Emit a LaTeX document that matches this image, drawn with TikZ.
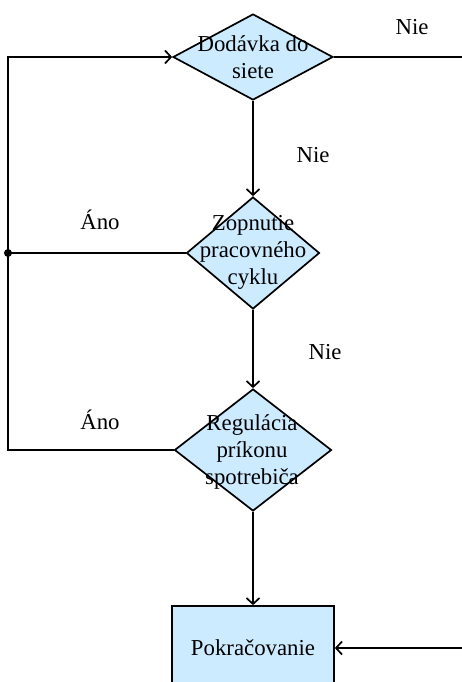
\documentclass[tikz,border=0pt]{standalone}
\usepackage{fontspec}
\setmainfont{Liberation Serif}
\usetikzlibrary{shapes.geometric}
\usetikzlibrary{arrows.meta}
\definecolor{boxblue}{RGB}{204,235,255}

\begin{document}
\begin{tikzpicture}[x=1pt, y=-1pt, line width=1.7pt,
	>={Straight Barb[length=6pt,width=13pt]},
	decision/.style={diamond, draw, fill=boxblue, inner sep=0pt},
	txt/.style={align=center, font=\fontsize{22.8}{27}\selectfont, inner sep=0pt}]
	\useasboundingbox (0, 0) rectangle (461, 682);
	%decisions
	\node[decision, minimum width=160pt, minimum height=86pt] (d1) at (253, 57) {};
	\node[decision, minimum width=133pt, minimum height=112pt] (d2) at (253, 253) {};
	\node[decision, minimum width=157pt, minimum height=122pt] (d3) at (253, 450) {};
	\node[draw, fill=boxblue, minimum width=162pt, minimum height=84pt, inner sep=0pt] (box) at (253, 648) {};
	%texts
	\node[txt] (t1) at (253, 57) {Dodávka do\\siete};
	\node[txt] (t2) at (253, 252) {Zopnutie\\pracovného\\cyklu};
	\node[txt] (t3) at (252, 452) {Regulácia\\príkonu\\spotrebiča};
	\node[txt] (t4) at (253, 648) {Pokračovanie};
	%labels
	\node[txt] (nie1) at (412, 27) {Nie};
	\node[txt] (nie2) at (313, 155) {Nie};
	\node[txt] (ano1) at (100, 220) {Áno};
	\node[txt] (nie3) at (325, 352) {Nie};
	\node[txt] (ano2) at (100, 420) {Áno};
	%connectors
	\coordinate (j) at (8, 253);
	\coordinate (r) at (464, 57);
	\draw[->] (d1.south) -- (d2.north);
	\draw[->] (d2.south) -- (d3.north);
	\draw[->] (d3.south) -- (box.north);
	\draw[->] (d3.west) -| (j) |- (d1.west);
	\draw (d2.west) -- (j);
	\fill (j) circle (4pt);
	\draw[->] (d1.east) -- (r) |- (box.east);
\end{tikzpicture}
\end{document}
